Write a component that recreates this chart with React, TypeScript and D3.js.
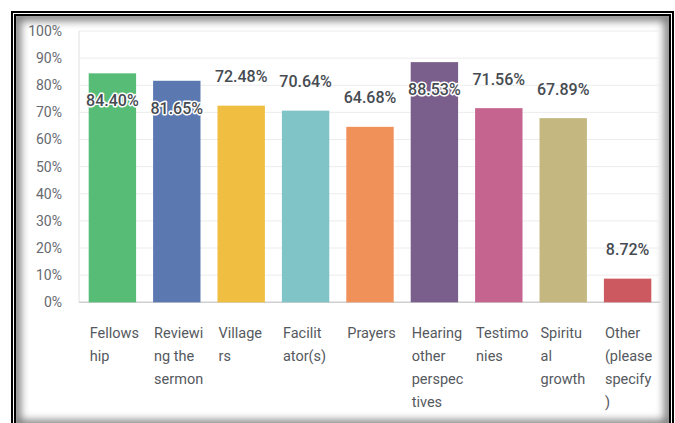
import React from "react";
import * as d3 from "d3";

const categories = [
  "Fellowship",
  "Reviewing the sermon",
  "Villagers",
  "Facilitator(s)",
  "Prayers",
  "Hearing other perspectives",
  "Testimonies",
  "Spiritual growth",
  "Other (please specify)",
];
const categoryLines = [
  ["Fellows", "hip"],
  ["Reviewi", "ng the", "sermon"],
  ["Village", "rs"],
  ["Facilit", "ator(s)"],
  ["Prayers"],
  ["Hearing", "other", "perspec", "tives"],
  ["Testimo", "nies"],
  ["Spiritu", "al", "growth"],
  ["Other", "(please", "specify", ")"],
];
const values = [84.4, 81.65, 72.48, 70.64, 64.68, 88.53, 71.56, 67.89, 8.72];
const colors = [
  "#57bd76",
  "#5b79b0",
  "#f0bf41",
  "#81c4c8",
  "#f0915a",
  "#7a5e8c",
  "#c5648e",
  "#c4b880",
  "#cc5960",
];
const yTicks = [0, 10, 20, 30, 40, 50, 60, 70, 80, 90, 100];

export default function App() {
  const W = 675;
  const H = 423;
  const left = 79;
  const right = 660;
  const x = d3
    .scaleBand<string>()
    .domain(categories)
    .range([80, right])
    .paddingInner(0.264)
    .paddingOuter(0.135);
  const y = d3.scaleLinear().domain([0, 100]).range([302.3, 31]);
  const font = "Roboto, 'Open Sans', sans-serif";

  return (
    <svg
      width={W}
      height={H}
      style={{ position: "absolute", left: 0, top: 0, background: "#fff" }}
    >
      <defs>
        <clipPath id="inner">
          <rect x={16} y={16} width={653} height={420} />
        </clipPath>
        <filter id="blur" x="-10%" y="-10%" width="120%" height="120%">
          <feGaussianBlur stdDeviation={4} />
        </filter>
      </defs>
      <rect x={0} y={0} width={W} height={H} fill="#fff" />
      {/* inner shadow */}
      <g clipPath="url(#inner)">
        <rect
          x={16}
          y={16}
          width={653}
          height={409}
          fill="none"
          stroke="#000"
          strokeWidth={9}
          opacity={0.55}
          filter="url(#blur)"
        />
      </g>
      {/* borders */}
      <rect x={12} y={12} width={661} height={440} fill="none" stroke="#000" strokeWidth={2} />
      <rect x={15} y={15} width={655} height={440} fill="none" stroke="#000" strokeWidth={2} />

      {/* gridlines */}
      {yTicks.map((t) => (
        <line
          key={"g" + t}
          x1={left}
          x2={right}
          y1={y(t)}
          y2={y(t)}
          stroke={t === 0 ? "#cfcfcf" : "#ececec"}
          strokeWidth={t === 0 ? 1.5 : 1}
        />
      ))}
      <line x1={left} x2={left} y1={y(100)} y2={y(0)} stroke="#e0e0e0" strokeWidth={1} />

      {/* y tick labels */}
      {yTicks.map((t) => (
        <text
          key={"t" + t}
          x={62}
          y={y(t)}
          dy="0.35em"
          textAnchor="end"
          fontFamily={font}
          fontSize={14}
          fill="#666a70"
        >
          {t + "%"}
        </text>
      ))}

      {/* bars */}
      {categories.map((c, i) => (
        <rect
          key={"b" + c}
          x={x(c)}
          y={y(values[i])}
          width={x.bandwidth()}
          height={y(0) - y(values[i])}
          fill={colors[i]}
        />
      ))}

      {/* value labels */}
      {categories.map((c, i) => {
        const inside = values[i] > 80;
        const cx = (x(c) as number) + x.bandwidth() / 2;
        const ty = inside ? y(values[i]) + 33 : y(values[i]) - 23.5;
        return (
          <text
            key={"v" + c}
            x={cx}
            y={ty}
            textAnchor="middle"
            fontFamily={font}
            fontSize={16}
            fontWeight={500}
            fill="#464b52"
            stroke={inside ? "#fff" : "none"}
            strokeWidth={inside ? 3 : 0}
            strokeLinejoin="round"
            paintOrder="stroke"
          >
            {values[i].toFixed(2) + "%"}
          </text>
        );
      })}

      {/* category labels */}
      {categories.map((c, i) => (
        <text
          key={"c" + c}
          x={(x(c) as number) + 1}
          y={337.5}
          fontFamily={font}
          fontSize={14.5}
          fill="#55595e"
        >
          {categoryLines[i].map((ln, j) => (
            <tspan key={j} x={(x(c) as number) + 1} y={337.5 + j * 23.3}>
              {ln}
            </tspan>
          ))}
        </text>
      ))}
    </svg>
  );
}
